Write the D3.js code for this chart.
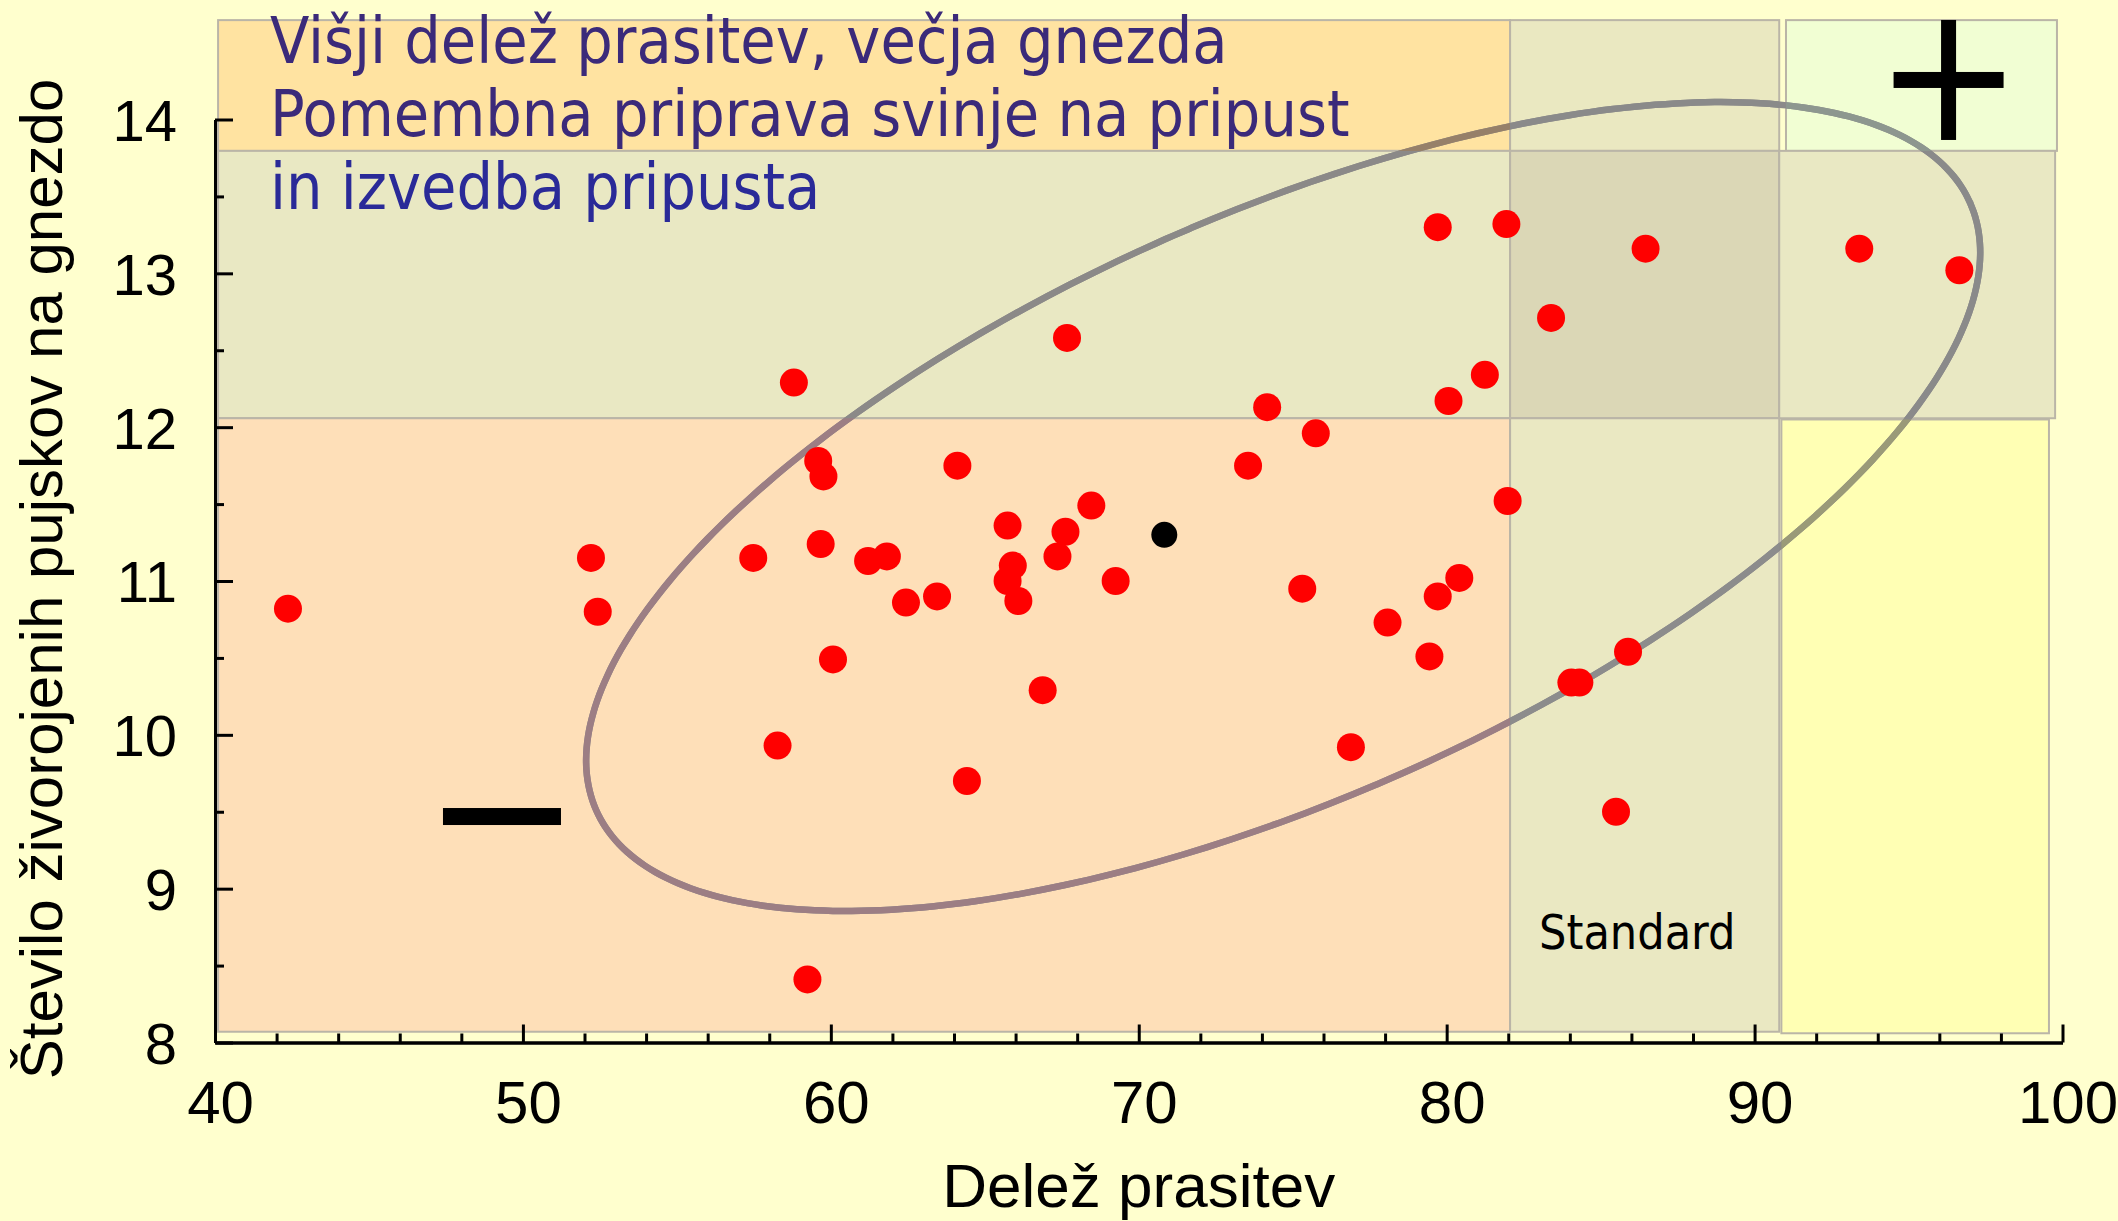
<!DOCTYPE html>
<html>
<head>
<meta charset="utf-8">
<script src="https://cdn.jsdelivr.net/npm/d3@7"></script>
<style>
  html, body { margin: 0; padding: 0; background: #FFFFCE; }
  svg { display: block; }
</style>
</head>
<body>
<svg id="chart" width="2118" height="1221"></svg>
<script>
// ---------------- DATA ----------------
const xDomain = [40, 100];
const yDomain = [8, 14];
const xMajorTicks = [40, 50, 60, 70, 80, 90, 100];
const xMinorTicks = [42, 44, 46, 48, 52, 54, 56, 58, 62, 64, 66, 68, 72, 74, 76, 78, 82, 84, 86, 88, 92, 94, 96, 98];
const yMajorTicks = [8, 9, 10, 11, 12, 13, 14];
const yMinorTicks = [8.5, 9.5, 10.5, 11.5, 12.5, 13.5];

const xLabel = "Delež prasitev";
const yLabel = "Število živorojenih pujskov na gnezdo";
const titleLines = ["Višji delež prasitev, večja gnezda", "Pomembna priprava svinje na pripust", "in izvedba pripusta"];
const standardLabel = "Standard";

// farms: share of farrowings (x) and live-born piglets per litter (y)
const farmX = [42.37, 52.21, 52.43, 58.80, 57.48, 58.27, 59.24, 59.59, 59.76, 59.67, 60.07, 61.21, 61.82, 62.44, 63.45, 64.11, 64.42, 65.74, 65.91, 65.74, 66.09, 66.88, 67.36, 67.62, 67.67, 68.46, 69.25, 73.55, 74.17, 75.31, 75.75, 76.89, 78.08, 79.44, 79.71, 79.71, 80.06, 80.41, 81.24, 81.94, 81.98, 83.39, 84.05, 84.31, 85.50, 85.89, 86.46, 93.40, 96.65];
const farmY = [10.82, 11.15, 10.80, 12.29, 11.15, 9.93, 8.41, 11.78, 11.68, 11.24, 10.49, 11.13, 11.16, 10.86, 10.90, 11.75, 9.70, 11.36, 11.10, 11.00, 10.87, 10.29, 11.16, 11.32, 12.58, 11.49, 11.00, 11.75, 12.13, 10.95, 11.96, 9.92, 10.73, 10.51, 10.90, 13.30, 12.17, 11.02, 12.34, 13.32, 11.52, 12.71, 10.34, 10.34, 9.50, 10.54, 13.16, 13.16, 13.02];
const meanX = [70.83];
const meanY = [11.30];

// background zones [x0, x1, y0, y1] in data units
const zoneX0 = [40.1, 82.06, 91.02, 40.1, 82.06, 90.80, 40.1, 82.06, 90.87];
const zoneX1 = [82.06, 90.80, 99.82, 82.06, 90.80, 99.76, 82.06, 90.80, 99.56];
const zoneY0 = [13.796, 13.796, 13.796, 12.058, 12.058, 12.058, 8.07, 8.07, 8.06];
const zoneY1 = [14.646, 14.646, 14.646, 13.796, 13.796, 13.796, 12.058, 12.058, 12.05];
const zoneFill = ["#FFE3A1", "#EAE8C1", "#F1FED3", "#E9E8C3", "#DBD7B6", "#E9E8C3", "#FEDFB8", "#EAE8C2", "#FFFFB4"];
const zoneEllipseStroke = ["#968069", "#8A8A8A", "#8D978F", "#8B8988", "#8A8A8A", "#8A8A8A", "#9C7E84", "#8C8C8C", "#9A9A78"];

// ellipse (data units): centre, axis vectors
const ellCenter = [74.69, 11.484];
const ellU = [22.31, 1.974];
const ellV = [3.836, -1.737];

// annotation anchors (data units)
const minusAt = [49.32, 9.469];
const plusAt = [96.30, 14.257];
const standardAt = [83.0, 8.608];

// ---------------- DRAW ----------------
const svg = d3.select("#chart");
const x = d3.scaleLinear().domain(xDomain).range([215, 2062.5]);
const y = d3.scaleLinear().domain(yDomain).range([1042.5, 119.5]);

svg.append("rect").attr("width", 2118).attr("height", 1221).attr("fill", "#FFFFCE");

const defs = svg.append("defs");
const zones = zoneX0.map((d, i) => ({x0: zoneX0[i], x1: zoneX1[i], y0: zoneY0[i], y1: zoneY1[i], fill: zoneFill[i], stroke: zoneEllipseStroke[i], i}));

zones.forEach(z => {
  defs.append("clipPath").attr("id", "clip" + z.i)
    .append("rect")
    .attr("x", x(z.x0)).attr("y", y(z.y1))
    .attr("width", x(z.x1) - x(z.x0)).attr("height", y(z.y0) - y(z.y1));
});

svg.append("g").selectAll("rect").data(zones).join("rect")
  .attr("x", d => x(d.x0)).attr("y", d => y(d.y1))
  .attr("width", d => x(d.x1) - x(d.x0)).attr("height", d => y(d.y0) - y(d.y1))
  .attr("fill", d => d.fill)
  .attr("stroke", "#BAB5A7").attr("stroke-width", 2);

// ellipse
const tVals = d3.range(0, 361, 2).map(a => a * Math.PI / 180);
const ellPts = tVals.map(t => [
  ellCenter[0] + ellU[0] * Math.cos(t) + ellV[0] * Math.sin(t),
  ellCenter[1] + ellU[1] * Math.cos(t) + ellV[1] * Math.sin(t)
]);
const ellLine = d3.line().x(d => x(d[0])).y(d => y(d[1])).curve(d3.curveCardinalClosed);
svg.append("path").attr("d", ellLine(ellPts)).attr("fill", "none")
  .attr("stroke", "#8C8A8A").attr("stroke-width", 6.5);
zones.forEach(z => {
  svg.append("path").attr("d", ellLine(ellPts)).attr("fill", "none")
    .attr("clip-path", `url(#clip${z.i})`)
    .attr("stroke", z.stroke).attr("stroke-width", 6.5);
});

// points
svg.append("g").selectAll("circle").data(farmX.map((v, i) => [v, farmY[i]])).join("circle")
  .attr("cx", d => x(d[0])).attr("cy", d => y(d[1])).attr("r", 14).attr("fill", "#FF0000");
svg.append("g").selectAll("circle").data(meanX.map((v, i) => [v, meanY[i]])).join("circle")
  .attr("cx", d => x(d[0])).attr("cy", d => y(d[1])).attr("r", 13).attr("fill", "#000000");

// plus / minus marks
svg.append("rect").attr("x", x(minusAt[0]) - 59).attr("y", y(minusAt[1]) - 8.5)
  .attr("width", 118).attr("height", 17).attr("fill", "#000");
svg.append("rect").attr("x", x(plusAt[0]) - 55).attr("y", y(plusAt[1]) - 8)
  .attr("width", 110).attr("height", 16).attr("fill", "#000");
svg.append("rect").attr("x", x(plusAt[0]) - 7.5).attr("y", y(plusAt[1]) - 60)
  .attr("width", 15).attr("height", 120).attr("fill", "#000");

// axes
const axisFont = "'Liberation Sans', Arial, sans-serif";
function styleAxis(g) {
  g.select(".domain").attr("stroke", "#000").attr("stroke-width", 3);
  g.selectAll(".tick line").attr("stroke", "#000").attr("stroke-width", 3);
}
const gxMinor = svg.append("g").attr("transform", `translate(0,${y(8)})`)
  .call(d3.axisBottom(x).tickValues(xMinorTicks).tickSize(-9).tickSizeOuter(0).tickFormat(""));
styleAxis(gxMinor);
const gx = svg.append("g").attr("transform", `translate(0,${y(8)})`)
  .call(d3.axisBottom(x).tickValues(xMajorTicks).tickSize(-18).tickSizeOuter(0).tickPadding(38).tickFormat(d3.format("d")));
styleAxis(gx);
gx.selectAll(".tick text").attr("font-family", axisFont).attr("font-size", 60).attr("fill", "#000").attr("dx", 5);

const gyMinor = svg.append("g").attr("transform", `translate(${x(40)},0)`)
  .call(d3.axisLeft(y).tickValues(yMinorTicks).tickSize(-9).tickSizeOuter(0).tickFormat(""));
styleAxis(gyMinor);
const gy = svg.append("g").attr("transform", `translate(${x(40)},0)`)
  .call(d3.axisLeft(y).tickValues(yMajorTicks).tickSize(-18).tickSizeOuter(0).tickPadding(38).tickFormat(d3.format("d")));
styleAxis(gy);
gy.selectAll(".tick text").attr("font-family", axisFont).attr("font-size", 58).attr("fill", "#000").attr("dy", "0.36em");

// axis labels
svg.append("text").attr("x", (x(40) + x(100)) / 2).attr("y", 1207)
  .attr("text-anchor", "middle").attr("font-family", axisFont).attr("font-size", 62)
  .attr("fill", "#000").text(xLabel);
svg.append("text").attr("transform", `translate(62,579) rotate(-90)`)
  .attr("text-anchor", "middle").attr("font-family", axisFont).attr("font-size", 60)
  .attr("fill", "#000").text(yLabel);

// title
const titleFont = "'DejaVu Sans Condensed', 'DejaVu Sans', sans-serif";
const titleColors = ["#3B2A7A", "#3B2A7A", "#2A2A98"];
titleLines.forEach((t, i) => {
  svg.append("text").attr("x", 270).attr("y", 63 + i * 73.2)
    .attr("font-family", titleFont).attr("font-stretch", "condensed").attr("font-size", 64)
    .attr("fill", titleColors[i]).text(t);
});

svg.append("text").attr("x", x(standardAt[0])).attr("y", y(standardAt[1]))
  .attr("font-family", titleFont).attr("font-stretch", "condensed").attr("font-size", 48)
  .attr("fill", "#000").text(standardLabel);
</script>
</body>
</html>
